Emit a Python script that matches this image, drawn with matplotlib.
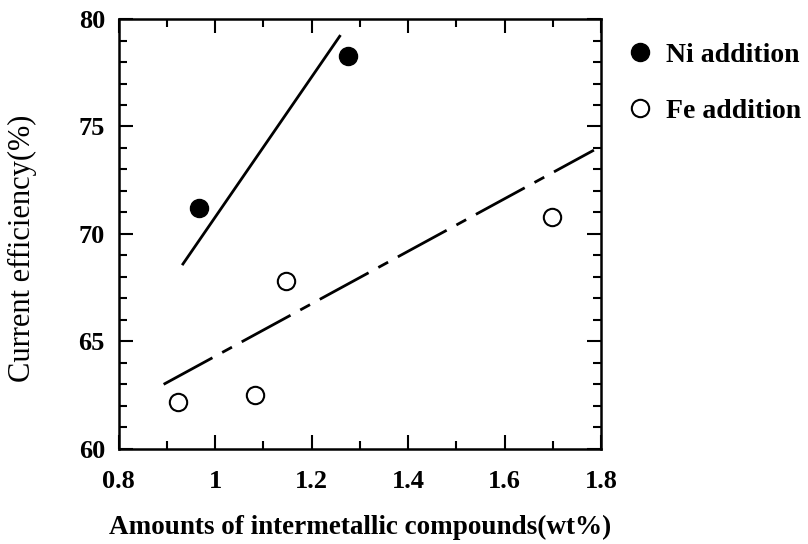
import matplotlib.pyplot as plt
from matplotlib.ticker import MultipleLocator

plt.rcParams['font.family'] = ['Liberation Serif', 'DejaVu Serif']
plt.rcParams['font.weight'] = 'bold'

# dados
ni_x = [0.966, 1.275]
ni_y = [71.2, 78.3]
ni_fit_x = [0.933, 1.258]
ni_fit_y = [68.6, 79.2]

fe_x = [0.922, 1.082, 1.146, 1.698]
fe_y = [62.2, 62.5, 67.8, 70.8]
fe_fit_x = [0.893, 1.785]
fe_fit_y = [63.0, 73.9]

xticks = [0.8, 1.0, 1.2, 1.4, 1.6, 1.8]
xlabels = ['0.8', '1', '1.2', '1.4', '1.6', '1.8']
yticks = [60, 65, 70, 75, 80]

fig = plt.figure(figsize=(8.08, 5.44), dpi=100)
ax = fig.add_axes([0.147, 0.175, 0.597, 0.79])

ax.plot(ni_fit_x, ni_fit_y, color='black', lw=2)
ax.plot(fe_fit_x, fe_fit_y, color='black', lw=2, linestyle=(0, (20, 4, 4, 4)))
ax.plot(ni_x, ni_y, 'o', color='black', ms=13, label='Ni addition')
ax.plot(fe_x, fe_y, 'o', mfc='white', mec='black', mew=1.5, ms=12.5, label='Fe addition')

ax.set_xlim(0.8, 1.8)
ax.set_ylim(60, 80)
ax.set_xticks(xticks)
ax.set_xticklabels(xlabels)
ax.set_yticks(yticks)
ax.xaxis.set_minor_locator(MultipleLocator(0.1))
ax.yaxis.set_minor_locator(MultipleLocator(1))
ax.tick_params(which='both', direction='in', top=True, right=True, width=1.5)
ax.tick_params(which='major', length=10, labelsize=19, pad=10)
ax.tick_params(axis='x', which='major', pad=15)
ax.tick_params(which='minor', length=6)
for s in ax.spines.values():
    s.set_linewidth(1.8)

ax.set_xlabel('Amounts of intermetallic compounds(wt%)', fontsize=19.5, fontweight='bold', labelpad=16)
ax.set_ylabel('Current efficiency(%)', fontsize=22, fontweight='normal')
ax.yaxis.set_label_coords(-0.17, 0.467)

ax.legend(loc='upper left', bbox_to_anchor=(1.0, 0.985), frameon=False, fontsize=20,
          handletextpad=0.15, labelspacing=1.1, borderaxespad=0.2, numpoints=1,
          markerscale=1.0, handlelength=1.6)

plt.savefig('out.png', dpi=100)
